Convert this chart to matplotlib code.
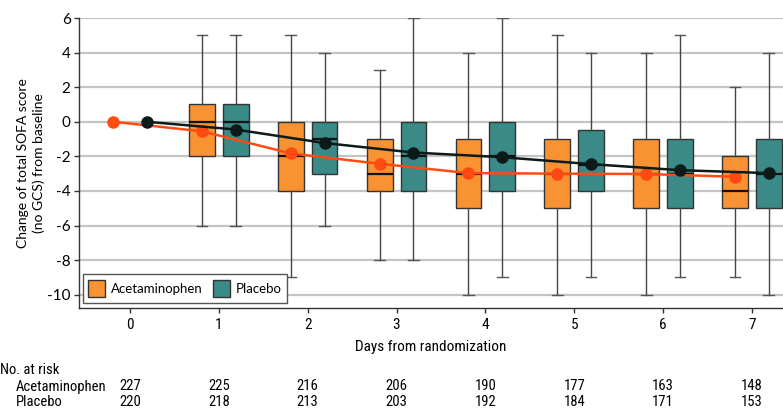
import matplotlib
matplotlib.use("Agg")
import matplotlib.pyplot as plt
import matplotlib.transforms as mtransforms
from matplotlib.patches import Patch
from matplotlib import font_manager

days = [0, 1, 2, 3, 4, 5, 6, 7]
box_days = [1, 2, 3, 4, 5, 6, 7]

# box stats: whisker low, q1, median, q3, whisker high
acet_wlo = [-6, -9, -8, -10, -10, -10, -9]
acet_q1 = [-2, -4, -4, -5, -5, -5, -5]
acet_med = [0, -2, -3, -3, -3, -3, -4]
acet_q3 = [1, 0, -1, -1, -1, -1, -2]
acet_whi = [5, 5, 3, 4, 5, 4, 2]

plac_wlo = [-6, -6, -8, -9, -9, -9, -10]
plac_q1 = [-2, -3, -4, -4, -4, -5, -5]
plac_med = [0, -1, -2, -2, -2.5, -3, -3]
plac_q3 = [1, 0, 0, 0, -0.5, -1, -1]
plac_whi = [5, 4, 6, 6, 4, 5, 4]

acet_mean = [0, -0.55, -1.83, -2.43, -2.97, -3.0, -3.02, -3.18]
plac_mean = [0, -0.45, -1.23, -1.78, -2.05, -2.45, -2.8, -2.97]

risk_acet = [227, 225, 216, 206, 190, 177, 163, 148]
risk_plac = [220, 218, 213, 203, 192, 184, 171, 153]

series_names = ["Acetaminophen", "Placebo"]
yticks = [-10, -8, -6, -4, -2, 0, 2, 4, 6]

available = {f.name for f in font_manager.fontManager.ttflist}
def pick(cands):
    for c in cands:
        if c in available:
            return c
    return "DejaVu Sans"

COND = pick(["Roboto Condensed", "Liberation Sans Narrow", "Open Sans", "DejaVu Sans"])
REG = pick(["Lato", "Open Sans", "DejaVu Sans"])
plt.rcParams["font.family"] = [COND, "DejaVu Sans"]

ORANGE = "#F99233"
TEAL = "#3A8A87"
ORANGE_LINE = "#FF4A12"
DARK_LINE = "#0C1A1A"

fig = plt.figure(figsize=(7.83, 4.2), dpi=100)
ax = fig.add_axes([79 / 783, 1 - 308 / 420, 1 - 79 / 783, 290 / 420])

off = 0.19
width = 0.29

def make_stats(wlo, q1, med, q3, whi):
    return [dict(whislo=a, q1=b, med=c, q3=d, whishi=e, fliers=[])
            for a, b, c, d, e in zip(wlo, q1, med, q3, whi)]

for stats, pos_off, col in [
    (make_stats(acet_wlo, acet_q1, acet_med, acet_q3, acet_whi), -off, ORANGE),
    (make_stats(plac_wlo, plac_q1, plac_med, plac_q3, plac_whi), off, TEAL),
]:
    ax.bxp(stats, positions=[d + pos_off for d in box_days], widths=width,
           patch_artist=True, showfliers=False, manage_ticks=False,
           boxprops=dict(facecolor=col, edgecolor="#333333", linewidth=1.0),
           medianprops=dict(color="#111111", linewidth=1.6),
           whiskerprops=dict(color="#444444", linewidth=1.0),
           capprops=dict(color="#555555", linewidth=1.0),
           capwidths=0.12, zorder=3)

ax.plot([d - off for d in days], acet_mean, color=ORANGE_LINE, lw=1.8,
        marker="o", ms=8, zorder=5)
ax.plot([d + off for d in days], plac_mean, color=DARK_LINE, lw=1.8,
        marker="o", ms=8, zorder=6)

ax.set_xlim(-0.574, 7.35)
ax.set_ylim(-10.77, 6)
ax.set_yticks(yticks)
ax.set_yticklabels([str(v) for v in yticks], fontsize=11, family=[REG, "DejaVu Sans"])
ax.set_xticks(days)
ax.set_xticklabels([str(d) for d in days], fontsize=11)
ax.yaxis.grid(True, color="#C4C4C4", lw=1.6, zorder=0)
ax.set_axisbelow(True)
for s in ["top", "right"]:
    ax.spines[s].set_visible(False)
for s in ["left", "bottom"]:
    ax.spines[s].set_color("#333333")
    ax.spines[s].set_linewidth(1.0)
ax.tick_params(axis="y", color="#333333", length=3.5, width=1.0, pad=2.5)
ax.tick_params(axis="x", color="#333333", length=3.5, width=1.0, pad=3.5)

ax.set_xlabel("Days from randomization", fontsize=11, labelpad=6)
ax.set_ylabel("Change of total SOFA score\n(no GCS) from baseline",
              fontsize=10, family=[REG, "DejaVu Sans"], labelpad=1.5,
              linespacing=1.3)

handles = [Patch(facecolor=ORANGE, edgecolor="#333333", lw=1.0),
           Patch(facecolor=TEAL, edgecolor="#333333", lw=1.0)]
leg = ax.legend(handles, series_names, loc="lower left",
                bbox_to_anchor=(0.005, 0.017), ncol=2,
                prop=dict(family=[REG, "DejaVu Sans"], size=9.5),
                fancybox=False, framealpha=1, edgecolor="#555555",
                handlelength=1.25, handleheight=1.6, columnspacing=0.8,
                handletextpad=0.45, borderpad=0.45, borderaxespad=0)
leg.get_frame().set_linewidth(1.0)

trans = mtransforms.blended_transform_factory(ax.transData, fig.transFigure)
fig.text(0.0, 1 - 370 / 420, "No. at risk", fontsize=10.5, va="center", ha="left")
fig.text(16 / 783, 1 - 386.5 / 420, series_names[0], fontsize=10.5, va="center", ha="left")
fig.text(16 / 783, 1 - 402 / 420, series_names[1], fontsize=10.5, va="center", ha="left")
for d, a, p in zip(days, risk_acet, risk_plac):
    ax.text(d, 1 - 386.5 / 420, str(a), transform=trans, fontsize=10.5, ha="center", va="center")
    ax.text(d, 1 - 402 / 420, str(p), transform=trans, fontsize=10.5, ha="center", va="center")

fig.savefig("out.png", dpi=100)
